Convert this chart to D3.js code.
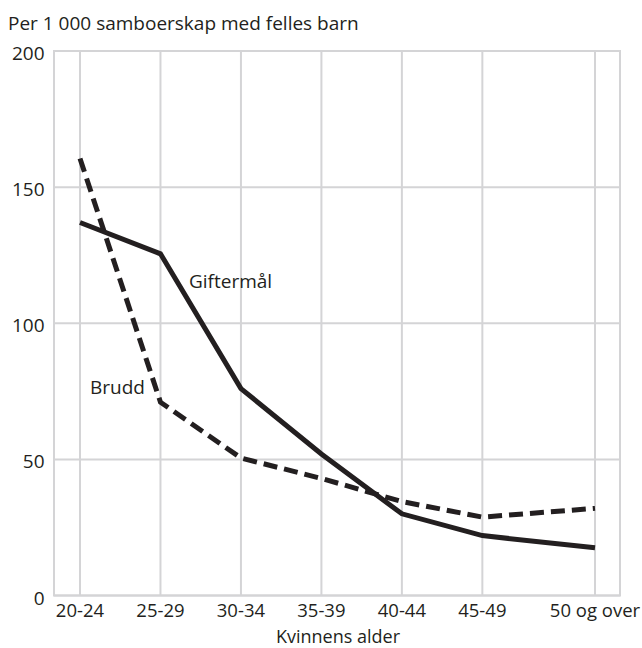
<!DOCTYPE html>
<html><head><meta charset="utf-8">
<script src="https://cdn.jsdelivr.net/npm/d3@7"></script>
<style>body{margin:0;background:#fff;} svg{display:block;} text{font-family:"Open Sans",sans-serif;fill:#231f20;}</style>
</head><body>
<svg id="c" width="642" height="648"></svg>
<script>
const categories = ["20-24","25-29","30-34","35-39","40-44","45-49","50 og over"];
const ageMid = [22, 27, 32, 37, 42, 47, 54];
const gifterMal = [137, 125.5, 76, 52, 30, 22, 17.5];
const brudd = [160.5, 71, 50.5, 43, 34.5, 28.8, 32];
const yTicks = [0, 50, 100, 150, 200];
const title = "Per 1 000 samboerskap med felles barn";
const xTitle = "Kvinnens alder";

const svg = d3.select("#c");
const pL = 54, pR = 620, pT = 51, pB = 595.5;
const x = d3.scaleLinear().domain([22, 54]).range([80, 595]);
const y = d3.scaleLinear().domain([0, 200]).range([pB, pT]);
const grid = "#d4d4d6";
const fs = 19;

svg.append("rect").attr("x", pL).attr("y", pT).attr("width", pR-pL).attr("height", pB-pT)
  .attr("fill","none").attr("stroke", grid).attr("stroke-width", 2);
svg.append("g").selectAll("line").data(yTicks).join("line")
  .attr("x1", pL).attr("x2", pR).attr("y1", d=>y(d)).attr("y2", d=>y(d))
  .attr("stroke", grid).attr("stroke-width", 2);
svg.append("g").selectAll("line").data(ageMid).join("line")
  .attr("x1", d=>x(d)).attr("x2", d=>x(d)).attr("y1", pT).attr("y2", pB)
  .attr("stroke", grid).attr("stroke-width", 2);

svg.append("g").selectAll("text").data(yTicks).join("text")
  .attr("x", 44.5).attr("y", d=>y(d)+9).attr("text-anchor","end")
  .attr("font-size", fs).text(d=>d);
svg.append("g").selectAll("text").data(categories).join("text")
  .attr("x", (d,i)=>x(ageMid[i])).attr("y", 617).attr("text-anchor","middle")
  .attr("font-size", 18.5).text(d=>d);

svg.append("text").attr("x", 338).attr("y", 642.5).attr("text-anchor","middle").attr("font-size", 18).text(xTitle);
svg.append("text").attr("x", 8).attr("y", 30).attr("font-size", fs).text(title);

const line = d3.line().x((d,i)=>x(ageMid[i])).y(d=>y(d));
svg.append("path").datum(brudd).attr("d", line).attr("fill","none")
  .attr("stroke","#231f20").attr("stroke-width",5).attr("stroke-dasharray","14,7");
svg.append("path").datum(gifterMal).attr("d", line).attr("fill","none")
  .attr("stroke","#231f20").attr("stroke-width",5).attr("stroke-linejoin","miter");

svg.append("text").attr("x", 189).attr("y", 288).attr("font-size", fs).text("Giftermål");
svg.append("text").attr("x", 90).attr("y", 394).attr("font-size", fs).text("Brudd");
</script>
</body></html>
